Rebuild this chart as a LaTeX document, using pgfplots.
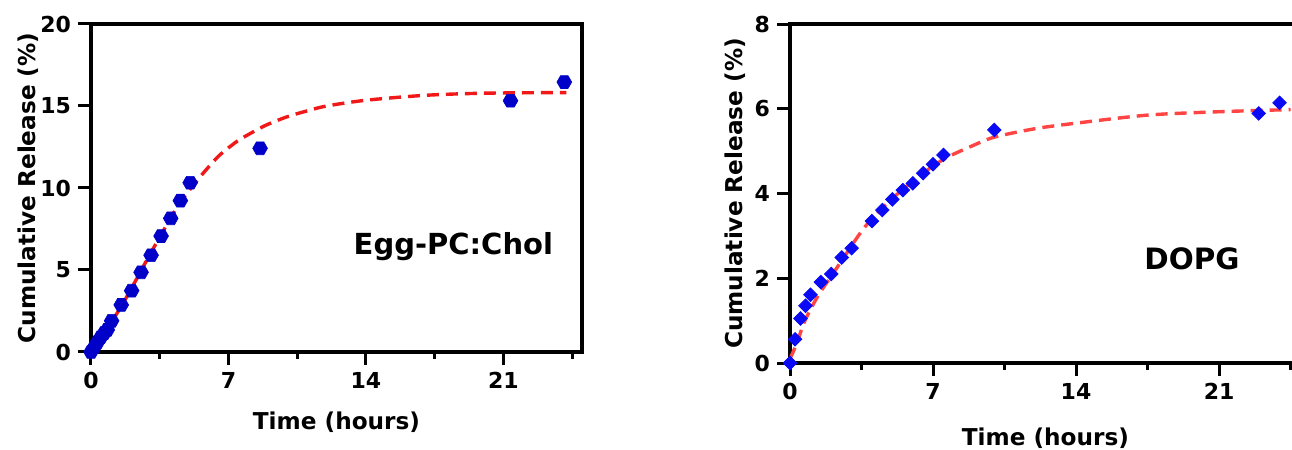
\documentclass[border=0pt]{standalone}
\usepackage{fontspec}
\setmainfont{DejaVu Sans}
\usepackage{pgfplots}
\pgfplotsset{compat=1.18}
\definecolor{hexblue}{HTML}{0000C8}
\definecolor{diablue}{HTML}{0A0AF5}
\definecolor{fitredA}{HTML}{F01818}
\definecolor{fitredB}{HTML}{FF4444}
\pgfdeclareplotmark{hexagon}{%
  \pgfpathmoveto{\pgfqpointpolar{0}{\pgfplotmarksize}}%
  \pgfpathlineto{\pgfqpointpolar{60}{\pgfplotmarksize}}%
  \pgfpathlineto{\pgfqpointpolar{120}{\pgfplotmarksize}}%
  \pgfpathlineto{\pgfqpointpolar{180}{\pgfplotmarksize}}%
  \pgfpathlineto{\pgfqpointpolar{240}{\pgfplotmarksize}}%
  \pgfpathlineto{\pgfqpointpolar{300}{\pgfplotmarksize}}%
  \pgfpathclose
  \pgfusepathqfillstroke}
\pgfplotsset{
  rel/.style={
    scale only axis, clip=false,
    axis line style={line width=1.6pt},
    every tick/.style={black, line width=1.5pt},
    tick align=outside, xtick pos=bottom, ytick pos=left,
    major tick length=6.5pt, minor tick length=3.5pt,
    xmin=0, xmax=25, ymin=0,
    xtick={0,7,14,21}, minor xtick={3.5,10.5,17.5,24.5},
    /pgf/number format/assume math mode=true,
    tick label style={font=\bfseries\fontsize{11}{13}\selectfont},
    label style={font=\bfseries\fontsize{11.6}{14}\selectfont},
    xlabel={Time (hours)}, ylabel={Cumulative Release (\%)},
  }
}
\begin{document}
\begin{tikzpicture}
\useasboundingbox (0,0) rectangle (646pt,225pt);
\begin{axis}[rel, at={(45.5pt,49pt)}, anchor=south west,
  width=245.5pt, height=164pt, ymax=20, ytick={0,5,10,15,20},
  xlabel style={at={(axis description cs:0.5,-0.213)}, anchor=center},
  ylabel style={at={(axis description cs:-0.128,0.5)}, anchor=center}]
\addplot[only marks, mark=hexagon, mark size=3.7pt, draw=hexblue, fill=hexblue, line width=0.3pt] coordinates {
(0,0) (0.17,0.3) (0.33,0.6) (0.5,0.9) (0.67,1.15) (0.83,1.35) (1.05,1.9)
(1.54,2.87) (2.07,3.74) (2.55,4.86) (3.06,5.9) (3.57,7.07) (4.06,8.15)
(4.55,9.23) (5.05,10.32) (8.61,12.42) (21.36,15.32) (24.1,16.46)};
\addplot[fitredA, line width=1.7pt, dash pattern=on 6pt off 3.5pt, smooth] coordinates {
(0,0) (0.5,0.85) (1,1.75) (1.5,2.7) (2,3.75) (2.5,4.85) (3,5.95) (3.5,7.0)
(4,8.05) (4.5,9.05) (5,9.85) (5.5,10.6) (6,11.3) (6.5,11.95) (7,12.45) (7.5,12.9)
(8,13.25) (8.5,13.58) (9,13.88) (10,14.35) (11,14.7) (12,15.0) (14,15.35)
(17,15.65) (20,15.78) (24.2,15.82)};
\node[font=\bfseries\fontsize{14.5}{17}\selectfont] at (axis cs:18.45,6.4) {Egg-PC:Chol};
\end{axis}
\begin{axis}[rel, at={(395pt,43.5pt)}, anchor=south west,
  width=255.4pt, height=169.5pt, ymax=8, ytick={0,2,4,6,8},
  xlabel style={at={(axis description cs:0.5,-0.221)}, anchor=center},
  ylabel style={at={(axis description cs:-0.1065,0.5)}, anchor=center}]
\addplot[fitredB, line width=1.7pt, dash pattern=on 6pt off 3.5pt, smooth] coordinates {
(0,0.1) (0.33,0.46) (0.73,1.0) (1.39,1.6) (2.12,2.12) (2.77,2.59) (3.43,3.06)
(4,3.4) (5,3.88) (6,4.28) (7,4.65) (7.8,4.88) (8.9,5.12) (10,5.33) (12,5.53)
(14,5.66) (17.5,5.85) (21,5.93) (24.5,5.98)};
\addplot[only marks, mark=square*, mark size=2.4pt, mark options={rotate=45}, draw=diablue, fill=diablue] coordinates {
(0,0) (0.25,0.56) (0.51,1.05) (0.76,1.35) (1.0,1.61) (1.51,1.91) (2.02,2.10)
(2.53,2.49) (3.02,2.71) (4.01,3.35) (4.52,3.61) (5.01,3.86) (5.52,4.08)
(6.01,4.24) (6.52,4.48) (7.0,4.69) (7.51,4.91) (10.0,5.50) (22.94,5.89) (23.96,6.14)};
\node[font=\bfseries\fontsize{14.7}{17}\selectfont] at (axis cs:19.67,2.47) {DOPG};
\end{axis}
\end{tikzpicture}
\end{document}
